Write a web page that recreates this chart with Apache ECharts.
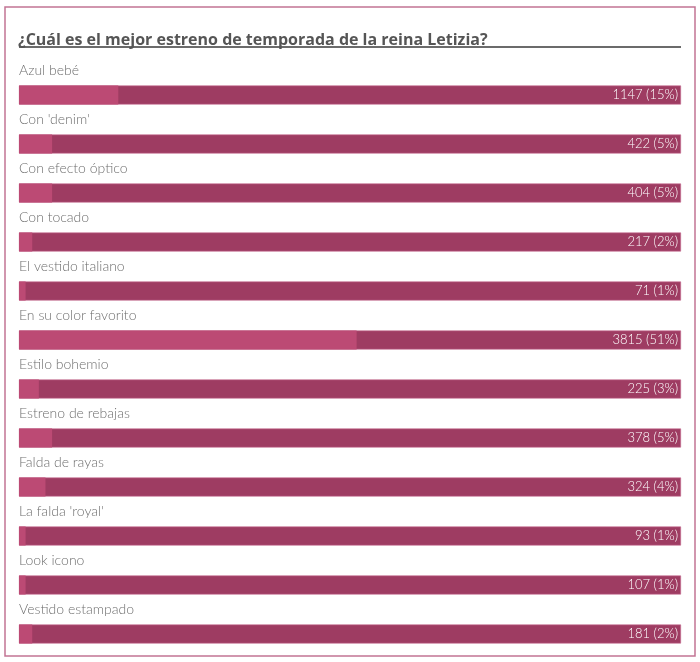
<!DOCTYPE html>
<html>
<head>
<meta charset="utf-8">
<script src="https://cdn.jsdelivr.net/npm/echarts@6/dist/echarts.min.js"></script>
<style>
  html, body { margin: 0; padding: 0; background: #fff; }
  #chart { width: 700px; height: 662px; }
</style>
</head>
<body>
<div id="chart"></div>
<script>
// poll options, top to bottom
var options = [
  'Azul bebé', "Con 'denim'", 'Con efecto óptico', 'Con tocado',
  'El vestido italiano', 'En su color favorito', 'Estilo bohemio',
  'Estreno de rebajas', 'Falda de rayas', "La falda 'royal'",
  'Look icono', 'Vestido estampado'
];
var votes = [1147, 422, 404, 217, 71, 3815, 225, 378, 324, 93, 107, 181];
var percents = [15, 5, 5, 2, 1, 51, 3, 5, 4, 1, 1, 2];

var chart = echarts.init(document.getElementById('chart'), null, { renderer: 'canvas' });
var font = 'Lato, "Open Sans", sans-serif';

chart.setOption({
  animation: false,
  title: {
    text: '¿Cuál es el mejor estreno de temporada de la reina Letizia?',
    left: 13,
    top: 27,
    textStyle: { fontFamily: '"Open Sans", sans-serif', fontSize: 16, fontWeight: 'bold', color: '#555' }
  },
  graphic: [
    {
      type: 'rect', silent: true,
      shape: { x: 5, y: 7, width: 690, height: 649 },
      style: { fill: 'none', stroke: '#c27494', lineWidth: 1.5 }
    },
    {
      type: 'line', silent: true,
      shape: { x1: 19, y1: 47, x2: 681, y2: 47 },
      style: { stroke: '#6b6b6b', lineWidth: 2 }
    }
  ],
  grid: { left: 19, right: 19, top: 70.5, height: 588, containLabel: false },
  xAxis: { type: 'value', min: 0, max: 100, show: false },
  yAxis: {
    type: 'category', data: options, inverse: true, show: false
  },
  series: [
    {
      name: 'total',
      type: 'bar',
      barWidth: 19,
      silent: true,
      data: options.map(function () { return 100; }),
      itemStyle: { color: '#9e3c62', borderColor: '#c66a8e', borderWidth: 0.6 },
      label: {
        show: true,
        position: 'insideRight',
        distance: 3,
        fontFamily: font,
        fontSize: 13,
        fontWeight: 300,
        color: '#fff',
        formatter: function (p) {
          return votes[p.dataIndex] + ' (' + percents[p.dataIndex] + '%)';
        }
      }
    },
    {
      name: 'share',
      type: 'bar',
      barWidth: 19,
      barGap: '-100%',
      silent: true,
      data: percents,
      itemStyle: { color: '#bc4a74' },
      label: {
        show: true,
        position: [0, -15],
        align: 'left',
        verticalAlign: 'middle',
        fontFamily: font,
        fontSize: 14,
        fontWeight: 300,
        color: '#6f6f6f',
        formatter: function (p) { return options[p.dataIndex]; }
      }
    }
  ]
});
</script>
</body>
</html>
